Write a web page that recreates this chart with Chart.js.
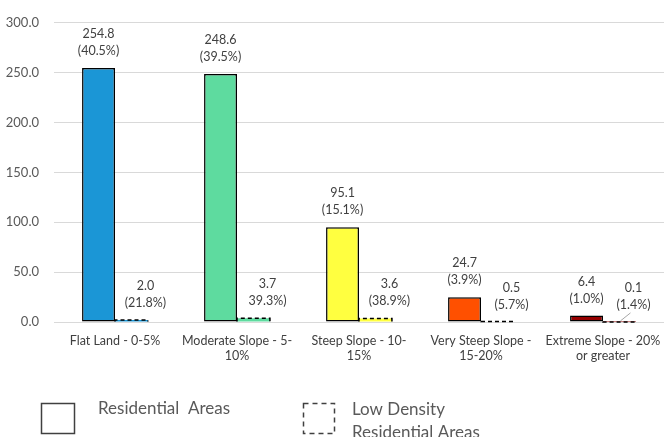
<!DOCTYPE html>
<html>
<head>
<meta charset="utf-8">
<script src="https://cdn.jsdelivr.net/npm/chart.js@4"></script>
<style>
  html, body { margin: 0; padding: 0; background: #ffffff; }
  #wrap { width: 664px; height: 437px; position: relative; }
</style>
</head>
<body>
<div id="wrap"><canvas id="chart" width="664" height="437"></canvas></div>
<script>
// Slope classes on the x axis
const categories = [
  ["Flat Land - 0-5%"],
  ["Moderate Slope - 5-", "10%"],
  ["Steep Slope - 10-", "15%"],
  ["Very Steep Slope -", "15-20%"],
  ["Extreme Slope - 20%", "or greater"]
];

// Residential areas per slope class
const residentialValues = [254.8, 248.6, 95.1, 24.7, 6.4];
const residentialShares = ["(40.5%)", "(39.5%)", "(15.1%)", "(3.9%)", "(1.0%)"];

// Low density residential areas per slope class
const lowDensityValues = [2.0, 3.7, 3.6, 0.5, 0.1];
const lowDensityShares = ["(21.8%)", "39.3%)", "(38.9%)", "(5.7%)", "(1.4%)"];

// Fill colour of each slope class
const slopeColors = ["#1b96d6", "#5edb9f", "#ffff40", "#ff5000", "#960000"];

// Y axis ticks
const yTicks = [0, 50, 100, 150, 200, 250, 300];

const labelFont = "12.5px Lato";
const labelColor = "#404040";

const annotate = {
  id: "annotate",
  afterDatasetsDraw(chart) {
    const ctx = chart.ctx;
    ctx.save();

    // dashed outline around the low density bars
    const lowMeta = chart.getDatasetMeta(1);
    lowMeta.data.forEach((bar) => {
      const p = bar.getProps(["x", "y", "base", "width"], true);
      ctx.strokeStyle = "#000000";
      ctx.lineWidth = 1.5;
      ctx.setLineDash([4, 3]);
      ctx.beginPath();
      ctx.moveTo(p.x - p.width / 2, p.base);
      ctx.lineTo(p.x - p.width / 2, p.y);
      ctx.lineTo(p.x + p.width / 2, p.y);
      ctx.lineTo(p.x + p.width / 2, p.base);
      ctx.stroke();
    });
    ctx.setLineDash([]);

    // value and share labels
    ctx.font = labelFont;
    ctx.fillStyle = labelColor;
    ctx.textAlign = "center";
    ctx.textBaseline = "middle";
    const sets = [
      { meta: chart.getDatasetMeta(0), values: residentialValues, shares: residentialShares, dx: 0 },
      { meta: lowMeta, values: lowDensityValues, shares: lowDensityShares, dx: 14 }
    ];
    sets.forEach((s) => {
      s.meta.data.forEach((bar, j) => {
        const p = bar.getProps(["x", "y"], true);
        const x = p.x + s.dx;
        ctx.fillText(s.values[j].toFixed(1), x, p.y - 34);
        ctx.fillText(s.shares[j], x, p.y - 17);
      });
    });

    // leader line for the smallest label
    const last = lowMeta.data[lowMeta.data.length - 1].getProps(["x", "y"], true);
    ctx.strokeStyle = "#a6a6a6";
    ctx.lineWidth = 1;
    ctx.beginPath();
    ctx.moveTo(last.x + 1, last.y - 1);
    ctx.lineTo(last.x + 11, last.y - 9);
    ctx.stroke();

    ctx.restore();
  },
  afterDraw(chart) {
    const ctx = chart.ctx;
    ctx.save();
    // legend
    ctx.strokeStyle = "#404040";
    ctx.lineWidth = 1.5;
    ctx.strokeRect(41.5, 403.5, 33, 30);
    ctx.setLineDash([5, 4]);
    ctx.strokeRect(303.5, 403.5, 31, 30);
    ctx.setLineDash([]);
    ctx.font = "17px Lato";
    ctx.fillStyle = "#595959";
    ctx.textAlign = "left";
    ctx.textBaseline = "alphabetic";
    ctx.fillText("Residential  Areas", 98, 414);
    ctx.fillText("Low Density", 352, 415);
    ctx.fillText("Residential Areas", 352, 438);
    ctx.restore();
  }
};

new Chart(document.getElementById("chart"), {
  type: "bar",
  data: {
    labels: categories,
    datasets: [
      {
        label: "Residential Areas",
        data: residentialValues,
        backgroundColor: slopeColors,
        borderColor: "#000000",
        borderWidth: 1.5,
        borderSkipped: false,
        categoryPercentage: 0.54,
        barPercentage: 1.0
      },
      {
        label: "Low Density Residential Areas",
        data: lowDensityValues,
        backgroundColor: slopeColors,
        borderWidth: 0,
        categoryPercentage: 0.54,
        barPercentage: 1.0
      }
    ]
  },
  plugins: [annotate],
  options: {
    responsive: false,
    animation: false,
    layout: { padding: { top: 3, right: 0, bottom: 71, left: 0 } },
    plugins: {
      legend: { display: false },
      tooltip: { enabled: false }
    },
    scales: {
      x: {
        grid: { display: false },
        border: { display: false },
        ticks: {
          color: labelColor,
          font: { family: "Lato", size: 12.5 },
          maxRotation: 0,
          autoSkip: false,
          padding: 3
        }
      },
      y: {
        min: 0,
        max: 300,
        afterBuildTicks(scale) {
          scale.ticks = yTicks.map((v) => ({ value: v }));
        },
        afterFit(scale) { scale.width = 54; },
        grid: { color: "#d9d9d9", lineWidth: 1, drawTicks: false },
        border: { display: false },
        ticks: {
          color: "#595959",
          font: { family: "Lato", size: 13 },
          padding: 15,
          callback: (v) => Number(v).toFixed(1)
        }
      }
    }
  }
});
</script>
</body>
</html>
